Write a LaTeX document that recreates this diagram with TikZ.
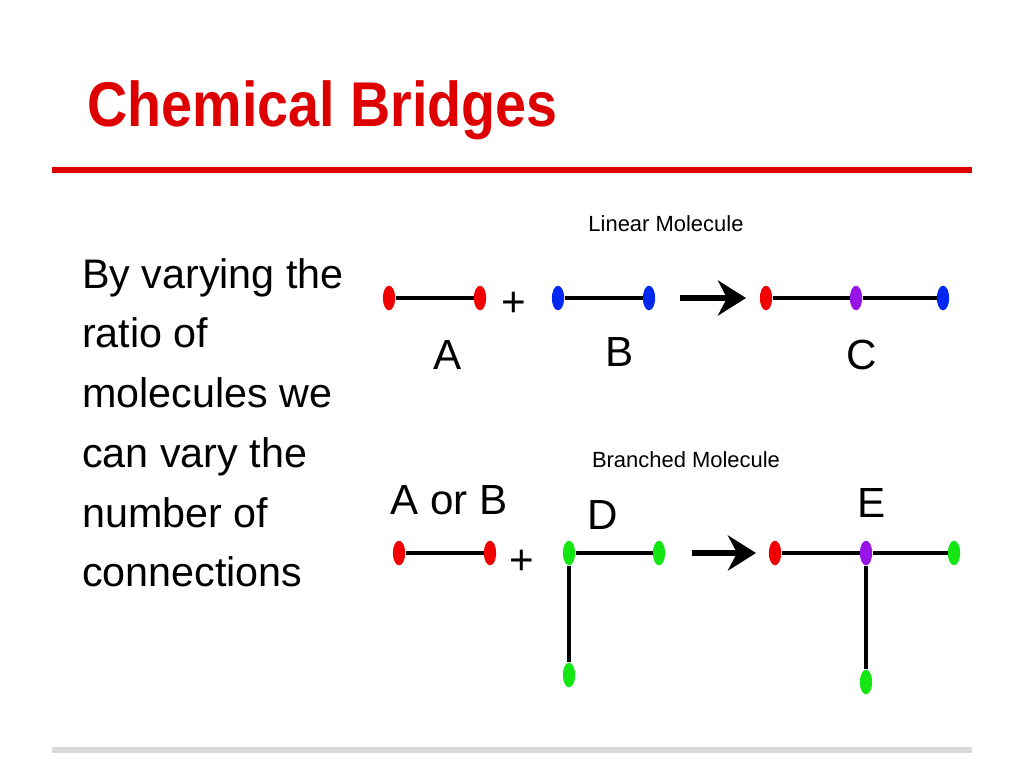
\documentclass[tikz,border=0pt]{standalone}
\usepackage{fontspec}
\setmainfont{Liberation Sans}
\usetikzlibrary{arrows.meta,shapes.geometric}
\definecolor{titlered}{RGB}{222,0,0}
\definecolor{atomred}{RGB}{240,0,0}
\definecolor{atomblue}{RGB}{0,40,240}
\definecolor{atomgreen}{RGB}{20,230,20}
\definecolor{atompurple}{RGB}{150,20,230}
\tikzset{
  atom/.style={ellipse, minimum width=7pt, minimum height=14pt, inner sep=0pt, fill=#1},
  bond/.style={line width=2.2pt},
  react/.style={line width=3pt, -{Stealth[length=16pt,width=20pt]}},
  lbl/.style={font=\fontsize{24}{28}\selectfont},
  capt/.style={font=\fontsize{12.5}{15}\selectfont},
}
\begin{document}
\begin{tikzpicture}[x=0.02cm,y=-0.02cm]
  \useasboundingbox (0,0) rectangle (1024,768);
  \node[anchor=west,text=titlered,font=\bfseries\fontsize{36}{40}\selectfont,xscale=0.88] (title) at (82,110) {Chemical Bridges};
  \draw[titlered,line width=3pt] (52,170) -- (972,170);
  \draw[black!15,line width=3pt] (52,750) -- (972,750);
  \node[anchor=north west,align=left,font=\fontsize{23.5}{34}\selectfont] (body) at (76,252)
    {By varying the\\ratio of\\molecules we\\can vary the\\number of\\connections};

  % linear molecule
  \node[capt] (lincap) at (666,224) {Linear Molecule};
  \node[atom=atomred] (a1) at (389,298) {};
  \node[atom=atomred] (a2) at (480,298) {};
  \node[atom=atomblue] (b1) at (558,298) {};
  \node[atom=atomblue] (b2) at (649,298) {};
  \node[atom=atomred] (c1) at (766,298) {};
  \node[atom=atompurple] (c2) at (856,298) {};
  \node[atom=atomblue] (c3) at (943,298) {};
  \draw[bond] (a1) -- (a2);
  \draw[bond] (b1) -- (b2);
  \draw[bond] (c1) -- (c2) -- (c3);
  \node[lbl] (plus1) at (514,304) {+};
  \coordinate (r1s) at (680,298);
  \coordinate (r1e) at (746,298);
  \draw[react] (r1s) -- (r1e);
  \node[lbl] (la) at (448,355) {A};
  \node[lbl] (lb) at (620,352) {B};
  \node[lbl] (lc) at (862,355) {C};

  % branched molecule
  \node[capt] (bracap) at (686,460) {Branched Molecule};
  \node[atom=atomred] (p1) at (399,553) {};
  \node[atom=atomred] (p2) at (490,553) {};
  \node[atom=atomgreen] (d1) at (569,553) {};
  \node[atom=atomgreen] (d2) at (659,553) {};
  \node[atom=atomgreen] (d3) at (569,675) {};
  \node[atom=atomred] (e1) at (775,553) {};
  \node[atom=atompurple] (e2) at (866,553) {};
  \node[atom=atomgreen] (e3) at (954,553) {};
  \node[atom=atomgreen] (e4) at (866,682) {};
  \draw[bond] (p1) -- (p2);
  \draw[bond] (d1) -- (d2);
  \draw[bond] (d1) -- (d3);
  \draw[bond] (e1) -- (e2) -- (e3);
  \draw[bond] (e2) -- (e4);
  \node[lbl] (plus2) at (522,562) {+};
  \coordinate (r2s) at (692,553);
  \coordinate (r2e) at (756,553);
  \draw[react] (r2s) -- (r2e);
  \node[lbl] (lab) at (449,500) {A or B};
  \node[lbl] (ld) at (603,515) {D};
  \node[lbl] (le) at (872,503) {E};
\end{tikzpicture}
\end{document}
